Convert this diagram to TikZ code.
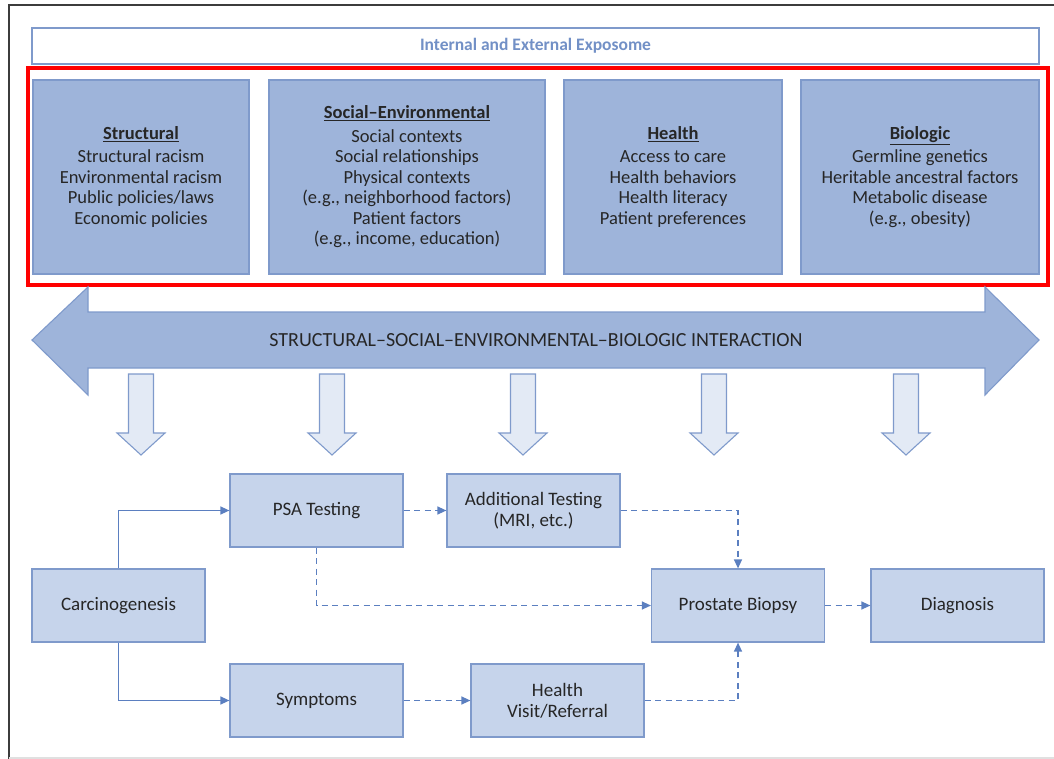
\documentclass[tikz,border=0pt]{standalone}
\usepackage{fontspec}
\setmainfont{Carlito}
\usetikzlibrary{arrows.meta}
\definecolor{edgeblue}{HTML}{7F9ACB}
\definecolor{factorfill}{HTML}{9EB4DA}
\definecolor{stagefill}{HTML}{C6D4EB}
\definecolor{palefill}{HTML}{E3EAF5}
\definecolor{flowblue}{HTML}{5B7FC0}
\definecolor{titleblue}{HTML}{7290C6}
\definecolor{inkgray}{HTML}{262626}
\definecolor{framegray}{HTML}{3C3C3C}
\begin{document}
\begin{tikzpicture}[x=1pt,y=-1pt,
    factor/.style={draw=edgeblue, fill=factorfill, line width=1.2pt, minimum height=194, align=center, text=inkgray, font=\fontsize{18.5}{20.5}\selectfont},
    stage/.style={draw=edgeblue, fill=stagefill, line width=1.2pt, minimum width=173, minimum height=73, align=center, text=inkgray, font=\fontsize{19}{21}\selectfont},
    flow/.style={-{Triangle[length=9pt,width=8pt]}, draw=flowblue, line width=1.3pt},
    dflow/.style={flow, dash pattern=on 6pt off 4.5pt},
    downarrow/.style={draw=edgeblue, fill=palefill, line width=1.1pt, line join=miter}]
    \useasboundingbox (0,0) rectangle (1054,759);
    \draw[framegray, line width=2] (1054,5) -- (9,5) -- (9,759);
    \draw[black!12, line width=1.5] (9,758) -- (1054,758);

    \node[draw=edgeblue, line width=1.4pt, minimum width=1007, minimum height=36, text=titleblue, font=\bfseries\fontsize{17.5}{20}\selectfont] (exposome) at (535.5,46) {Internal and External Exposome};
    \node[draw=red, line width=3.5pt, minimum width=1020, minimum height=217] (focus) at (538,176.5) {};

    \node[factor, minimum width=216] (structural) at (141,177) {\underline{\textbf{Structural}}\\[3pt]Structural racism\\Environmental racism\\Public policies/laws\\Economic policies};
    \node[factor, minimum width=276] (social) at (407,177) {\underline{\textbf{Social--Environmental}}\\[3pt]Social contexts\\Social relationships\\Physical contexts\\(e.g., neighborhood factors)\\Patient factors\\(e.g., income, education)};
    \node[factor, minimum width=218] (health) at (673,177) {\underline{\textbf{Health}}\\[3pt]Access to care\\Health behaviors\\Health literacy\\Patient preferences};
    \node[factor, minimum width=238] (biologic) at (920,177) {\underline{\textbf{Biologic}}\\[3pt]Germline genetics\\Heritable ancestral factors\\Metabolic disease\\(e.g., obesity)};

    \draw[draw=edgeblue, fill=factorfill, line width=1.1pt, line join=miter] (32,340) -- (88,287) -- (88,312) -- (985,312) -- (985,287) -- (1039,340) -- (985,395) -- (985,368) -- (88,368) -- (88,395) -- cycle;
    \node[text=inkgray, font=\fontsize{20}{22}\selectfont] (interaction) at (536,340) {STRUCTURAL--SOCIAL--ENVIRONMENTAL--BIOLOGIC INTERACTION};

    \foreach \cx in {141,332,523,714,906}
        \draw[downarrow] (\cx-12.5,374) -- (\cx+12.5,374) -- (\cx+12.5,433) -- (\cx+24,433) -- (\cx,455) -- (\cx-24,433) -- (\cx-12.5,433) -- cycle;

    \node[stage] (carc) at (118.5,605.5) {Carcinogenesis};
    \node[stage] (psa) at (316.5,510.5) {PSA Testing};
    \node[stage] (addl) at (533.5,510.5) {Additional Testing\\(MRI, etc.)};
    \node[stage] (biopsy) at (738,605.5) {Prostate Biopsy};
    \node[stage] (diag) at (957.5,605.5) {Diagnosis};
    \node[stage] (symp) at (316.5,700.5) {Symptoms};
    \node[stage] (visit) at (557.5,700.5) {Health\\Visit/Referral};

    \draw[flow] (carc.north) |- (psa.west);
    \draw[flow] (carc.south) |- (symp.west);
    \draw[dflow] (psa) -- (addl);
    \draw[dflow] (addl.east) -| (biopsy.north);
    \draw[dflow] (psa.south) |- (biopsy.west);
    \draw[dflow] (biopsy) -- (diag);
    \draw[dflow] (symp) -- (visit);
    \draw[dflow] (visit.east) -| (biopsy.south);
\end{tikzpicture}
\end{document}
